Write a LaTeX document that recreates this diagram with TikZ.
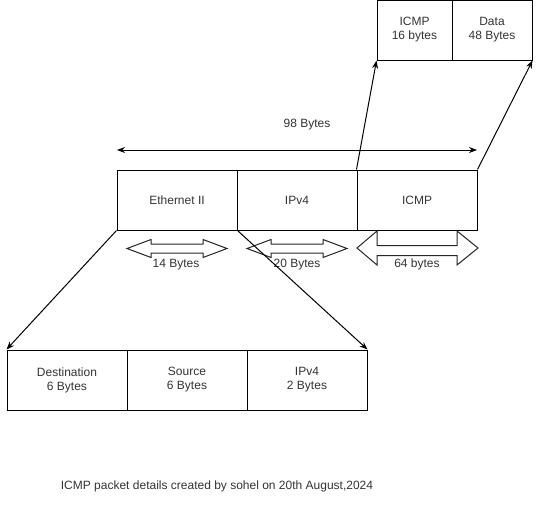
\documentclass[tikz,border=0pt]{standalone}
\usepackage{fontspec}
\setmainfont{Liberation Sans}
\usetikzlibrary{arrows.meta}
\begin{document}
\begin{tikzpicture}[x=1pt,y=-1pt,
  font=\fontsize{12}{14}\selectfont,
  box/.style={draw, line width=1pt, minimum height=60pt, inner sep=0pt, align=center, text=black!80},
  arr/.style={draw, line width=1pt, -{Stealth[length=8pt,width=6pt]}},
  darr/.style={draw, line width=1pt, {Stealth[length=8pt,width=6pt]}-{Stealth[length=8pt,width=6pt]}},
  blockarr/.style={draw=black!85, line width=1pt, fill=white, line join=miter},
  lbl/.style={text=black!80, inner sep=0pt}]
\useasboundingbox (0,0) rectangle (541,514);

% main row
\node[box, minimum width=120pt] (eth) at (177,200) {Ethernet II};
\node[box, minimum width=120pt] (ip) at (297,200) {IPv4};
\node[box, minimum width=120pt] (icmp) at (417,200) {ICMP};

% top row
\node[box, minimum width=75pt] (icmph) at (414.5,30) {ICMP\\16 bytes};
\node[box, minimum width=80pt] (data) at (492,30) {Data\\48 Bytes};

% bottom row
\node[box, minimum width=120pt] (dst) at (67,380) {Destination\\6 Bytes};
\node[box, minimum width=120pt] (src) at (187,380) {Source\\6 Bytes};
\node[box, minimum width=120pt] (typ) at (307,380) {IPv4\\2 Bytes};

% 98 bytes
\coordinate (l98) at (117,150);
\coordinate (r98) at (477,150);
\draw[darr] (l98) -- (r98);
\node[lbl] (t98) at (307,125) {98 Bytes};

% block arrows
\draw[blockarr] (127,248.5) -- (151,239.5) -- (151,244) -- (203,244) -- (203,239.5) -- (227,248.5)
  -- (203,257.5) -- (203,253) -- (151,253) -- (151,257.5) -- cycle;
\draw[blockarr] (247,248.5) -- (271,239.5) -- (271,244) -- (323,244) -- (323,239.5) -- (347,248.5)
  -- (323,257.5) -- (323,253) -- (271,253) -- (271,257.5) -- cycle;
\draw[blockarr] (357,248) -- (377,231) -- (377,245.5) -- (457,245.5) -- (457,231) -- (478,248)
  -- (457,265) -- (457,255.5) -- (377,255.5) -- (377,265) -- cycle;
\node[lbl] (t14) at (176,264.5) {14 Bytes};
\node[lbl] (t20) at (297,264.5) {20 Bytes};
\node[lbl] (t64) at (417,264.5) {64 bytes};

% connectors
\draw[arr] (icmp.north west) -- (icmph.south west);
\draw[arr] (icmp.north east) -- (data.south east);
\draw[arr] (eth.south west) -- (dst.north west);
\draw[arr] (eth.south east) -- (typ.north east);

% caption
\node[lbl] (cap) at (217,486) {ICMP packet details created by sohel on 20th August,2024};
\end{tikzpicture}
\end{document}
